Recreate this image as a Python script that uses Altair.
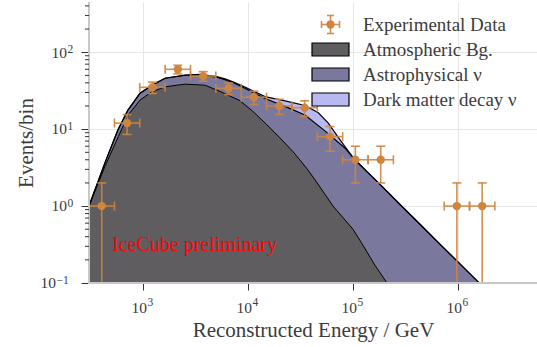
import altair as alt
import numpy as np
import pandas as pd

# ---------------------------------------------------------------------------
# Observed events: log-spaced energy bins (GeV) and counts per bin
# ---------------------------------------------------------------------------
bin_edges = [304, 531, 925, 1614, 2818, 4909, 8570, 14930, 26060, 45400,
             79250, 138300, 241000, 420700, 734500, 1280000, 2230000]
counts = [1, 12, 35, 60, 49, 34, 26, 20, 19, 8, 4, 4, 0, 0, 1, 1]

# ---------------------------------------------------------------------------
# Model expectation, stacked: atmospheric, + astrophysical, + dark matter
# (energy in GeV, events/bin at the top edge of each stacked component)
# ---------------------------------------------------------------------------
atm_energy = [304, 432, 578, 719, 931, 1202, 1611, 2495, 3864, 5370, 8318,
              11070, 14960, 20040, 26670, 35970, 43150, 64120, 99310,
              123600, 160700, 204600, 251200]
atm_events = [1.0, 3.3, 8.0, 15.3, 23.9, 30.5, 35.5, 38.5, 37.3, 31.0, 23.5,
              17.0, 11.5, 7.7, 5.1, 3.1, 2.2, 1.0, 0.5, 0.31, 0.17, 0.105,
              0.07]

astro_energy = [304, 432, 574, 714, 931, 1211, 1611, 2495, 3467, 5000, 6000,
                7145, 9290, 14420, 22390, 34670, 53700, 83180, 103700,
                134900, 191900, 278600, 431500, 668300, 966100, 1528000,
                1778000]
astro_events = [1.0, 3.67, 9.8, 17.7, 29.4, 37.3, 45.9, 50.2, 51.0, 47.5,
                44.0, 40.5, 34.0, 25.0, 19.8, 15.3, 9.5, 5.7, 4.0, 2.81,
                1.75, 1.05, 0.58, 0.32, 0.195, 0.105, 0.0855]

dm_energy = [304, 432, 574, 714, 931, 1211, 1611, 2495, 3467, 5000, 6000,
             7145, 9290, 14420, 22390, 34670, 46450, 57810, 71950, 89540,
             103700, 134900, 191900, 278600, 431500, 668300, 966100,
             1528000, 1778000]
dm_events = [1.0, 3.67, 9.8, 17.7, 29.4, 37.3, 45.9, 50.4, 51.5, 48.3, 45.0,
             41.3, 35.3, 26.5, 23.3, 20.3, 16.3, 12.0, 7.8, 5.2, 4.0, 2.81,
             1.75, 1.05, 0.58, 0.32, 0.195, 0.105, 0.0855]

# Axis ticks and their labels (10^exponent)
x_ticks = [1e3, 1e4, 1e5, 1e6]
x_exponents = ["3", "4", "5", "6"]
y_ticks = [1, 10, 100]
y_exponents = ["0", "1", "2"]
y_low_tick = [0.1]
y_low_exponent = ["\u22121"]
y_minor = [0.2, 0.3, 0.4, 0.5, 0.6, 0.7, 0.8, 0.9,
           2, 3, 4, 5, 6, 7, 8, 9,
           20, 30, 40, 50, 60, 70, 80, 90,
           200, 300, 400]

legend_labels = ["Experimental Data", "Atmospheric Bg.",
                 "Astrophysical \u03bd", "Dark matter decay \u03bd"]

# ---------------------------------------------------------------------------
FONT = "Liberation Serif"
TEXT = "#3c3c3c"
PERU = "#cd853f"
C_ATM = "#5f5d60"
C_ASTRO = "#7a799d"
C_DM = "#b9b9f2"
SPINE = "#c8c8c8"
TICK_FS, EXP_FS = 15.5, 11.5

W, H = 448, 281
xscale = alt.Scale(type="log", domain=[304, 5.62e6], nice=False)
yscale = alt.Scale(type="log", domain=[0.1, 450], nice=False)

x_axis = alt.Axis(
    values=x_ticks, grid=True, gridColor="#e6e6e6", gridWidth=1,
    domain=False, ticks=True, tickSize=7, tickColor="#333333", tickWidth=1,
    labels=False,
    title="Reconstructed Energy / GeV", titleFont=FONT, titleFontSize=21,
    titleFontWeight="normal", titleColor=TEXT, titleBaseline="alphabetic",
    titleX=W / 2, titleY=53, titleAlign="center",
)
y_axis = alt.Axis(
    values=y_low_tick + y_ticks, grid=True, gridColor="#e6e6e6", gridWidth=1,
    domain=False, ticks=True, tickSize=8, tickColor="#333333", tickWidth=1,
    labels=False,
    title="Events/bin", titleFont=FONT, titleFontSize=21,
    titleFontWeight="normal", titleColor=TEXT, titleBaseline="alphabetic",
    titleAngle=270, titleAlign="center", titleX=-57, titleY=H / 2,
)


def X(field):
    return alt.X(field, scale=xscale, axis=x_axis)


def Y(field):
    return alt.Y(field, scale=yscale, axis=y_axis)


def curve(energy, events):
    return pd.DataFrame({"E": energy, "v": events})


atm = curve(atm_energy, atm_events)
astro = curve(astro_energy, astro_events)
dm = curve(dm_energy, dm_events)


# Stacked model areas (drawn back to front, each from the bottom of the axis)
def area(df, color):
    return alt.Chart(df).mark_area(color=color, opacity=1, clip=True).encode(
        x=X("E:Q"), y=Y("v:Q"), y2=alt.datum(0.1))


def edge(df, width):
    return alt.Chart(df).mark_line(color="black", strokeWidth=width, clip=True).encode(
        x=X("E:Q"), y=Y("v:Q"))


areas = [area(dm, C_DM), area(astro, C_ASTRO), area(atm, C_ATM)]
edges = [edge(dm, 1.2), edge(astro, 1.2), edge(atm, 1.0)]

# Data points with Poisson (sqrt N) errors
edges_arr = np.array(bin_edges, dtype=float)
n = np.array(counts, dtype=float)
pts = pd.DataFrame({
    "lo": edges_arr[:-1],
    "hi": edges_arr[1:],
    "E": np.sqrt(edges_arr[:-1] * edges_arr[1:]),
    "n": n,
})
pts = pts[pts["n"] > 0].copy()
pts["nhi"] = pts["n"] + np.sqrt(pts["n"])
pts["nlo"] = np.maximum(pts["n"] - np.sqrt(pts["n"]), 1e-3)

base = alt.Chart(pts)
err_v = base.mark_rule(color=PERU, strokeWidth=1.6, opacity=0.9, clip=True).encode(
    x=X("E:Q"), y=Y("nlo:Q"), y2="nhi:Q")
err_h = base.mark_rule(color=PERU, strokeWidth=1.6, opacity=0.9, clip=True).encode(
    x=X("lo:Q"), x2="hi:Q", y=Y("n:Q"))
HCAP = "M-1,0H1"
VCAP = "M0,-1V1"


def cap(xf, yf, shape):
    return base.mark_point(shape=shape, size=81, stroke=PERU, strokeWidth=1.6,
                           filled=False, opacity=0.9, clip=True).encode(
        x=X(xf), y=Y(yf))


caps = [cap("E:Q", "nhi:Q", HCAP), cap("E:Q", "nlo:Q", HCAP),
        cap("lo:Q", "n:Q", VCAP), cap("hi:Q", "n:Q", VCAP)]
dots = base.mark_circle(size=70, color=PERU, opacity=1, clip=True).encode(
    x=X("E:Q"), y=Y("n:Q"))

# Preliminary label
prelim = alt.Chart(pd.DataFrame({"E": [504], "v": [0.26], "t": ["IceCube preliminary"]})).mark_text(
    align="left", baseline="alphabetic", font=FONT, fontSize=20, color="red"
).encode(x=X("E:Q"), y=Y("v:Q"), text="t:N")

# Tick labels written as 10 with a raised exponent
xlab = pd.DataFrame({"E": x_ticks, "b": ["10"] * len(x_ticks), "e": x_exponents})
xlab_base = alt.Chart(xlab).mark_text(
    align="right", baseline="alphabetic", dx=3.8, font=FONT, fontSize=TICK_FS, color=TEXT
).encode(x=X("E:Q"), y=alt.value(H + 29.5), text="b:N")
xlab_exp = alt.Chart(xlab).mark_text(
    align="left", baseline="alphabetic", dx=4.3, font=FONT, fontSize=EXP_FS, color=TEXT
).encode(x=X("E:Q"), y=alt.value(H + 23), text="e:N")


def ylabels(ticks, exps, exp_left):
    df = pd.DataFrame({"v": ticks, "b": ["10"] * len(ticks), "e": exps})
    b = alt.Chart(df).mark_text(
        align="right", baseline="alphabetic", dy=5.3, font=FONT, fontSize=TICK_FS, color=TEXT
    ).encode(x=alt.value(exp_left - 0.5), y=Y("v:Q"), text="b:N")
    e = alt.Chart(df).mark_text(
        align="left", baseline="alphabetic", dy=0.5, font=FONT, fontSize=EXP_FS, color=TEXT
    ).encode(x=alt.value(exp_left), y=Y("v:Q"), text="e:N")
    return [b, e]


ylabs = ylabels(y_ticks, y_exponents, -21.5) + ylabels(y_low_tick, y_low_exponent, -32.5)

# Spines (left and bottom) drawn above the filled areas
one = pd.DataFrame({"k": [0]})
spine_l = alt.Chart(one).mark_rule(color=SPINE, strokeWidth=2).encode(
    x=alt.value(0), y=alt.value(0), y2=alt.value(H))
spine_b = alt.Chart(one).mark_rule(color=SPINE, strokeWidth=2).encode(
    x=alt.value(-1), x2=alt.value(W), y=alt.value(H))

# Minor ticks on the logarithmic y axis
minor = alt.Chart(pd.DataFrame({"m": y_minor})).mark_rule(
    color="#333333", strokeWidth=1).encode(
    y=Y("m:Q"), x=alt.value(-4), x2=alt.value(0))

# Legend
LX_SYM, LX_TXT = 241.5, 274
ROW0, ROWSTEP = 22.5, 25
legend_layers = []
for i, lab in enumerate(legend_labels):
    yrow = ROW0 + ROWSTEP * i
    legend_layers.append(
        alt.Chart(pd.DataFrame({"label": [lab]})).mark_text(
            align="left", baseline="middle", font=FONT, fontSize=19, color=TEXT
        ).encode(x=alt.value(LX_TXT), y=alt.value(yrow), text="label:N")
    )
for i, col in zip([1, 2, 3], [C_ATM, C_ASTRO, C_DM]):
    yrow = ROW0 + ROWSTEP * i
    legend_layers.append(
        alt.Chart(one).mark_rect(fill=col, stroke="black", strokeWidth=1.2).encode(
            x=alt.value(LX_SYM - 18.5), x2=alt.value(LX_SYM + 18.5),
            y=alt.value(yrow - 6.5), y2=alt.value(yrow + 6.5))
    )
ly = ROW0
legend_layers += [
    alt.Chart(one).mark_rule(color=PERU, strokeWidth=1.6, opacity=0.9).encode(
        x=alt.value(LX_SYM), y=alt.value(ly - 9), y2=alt.value(ly + 9)),
    alt.Chart(one).mark_rule(color=PERU, strokeWidth=1.6, opacity=0.9).encode(
        x=alt.value(LX_SYM - 9), x2=alt.value(LX_SYM + 9), y=alt.value(ly)),
    alt.Chart(one).mark_point(shape=HCAP, size=49, stroke=PERU, strokeWidth=1.6,
                              filled=False, opacity=0.9).encode(
        x=alt.value(LX_SYM), y=alt.value(ly - 9)),
    alt.Chart(one).mark_point(shape=HCAP, size=49, stroke=PERU, strokeWidth=1.6,
                              filled=False, opacity=0.9).encode(
        x=alt.value(LX_SYM), y=alt.value(ly + 9)),
    alt.Chart(one).mark_point(shape=VCAP, size=49, stroke=PERU, strokeWidth=1.6,
                              filled=False, opacity=0.9).encode(
        x=alt.value(LX_SYM - 9), y=alt.value(ly)),
    alt.Chart(one).mark_point(shape=VCAP, size=49, stroke=PERU, strokeWidth=1.6,
                              filled=False, opacity=0.9).encode(
        x=alt.value(LX_SYM + 9), y=alt.value(ly)),
    alt.Chart(one).mark_circle(size=70, color=PERU, opacity=1).encode(
        x=alt.value(LX_SYM), y=alt.value(ly)),
]

chart = alt.layer(
    *areas, *edges, prelim,
    err_v, err_h, *caps, dots,
    spine_l, spine_b, minor, xlab_base, xlab_exp, *ylabs, *legend_layers,
).properties(
    width=W, height=H,
    autosize=alt.AutoSizeParams(type="none"),
    padding={"left": 89, "top": 2, "right": 0, "bottom": 64},
    background="white",
).configure_view(stroke=None)

chart.save("out.html", embed_options={"renderer": "svg", "actions": False})
